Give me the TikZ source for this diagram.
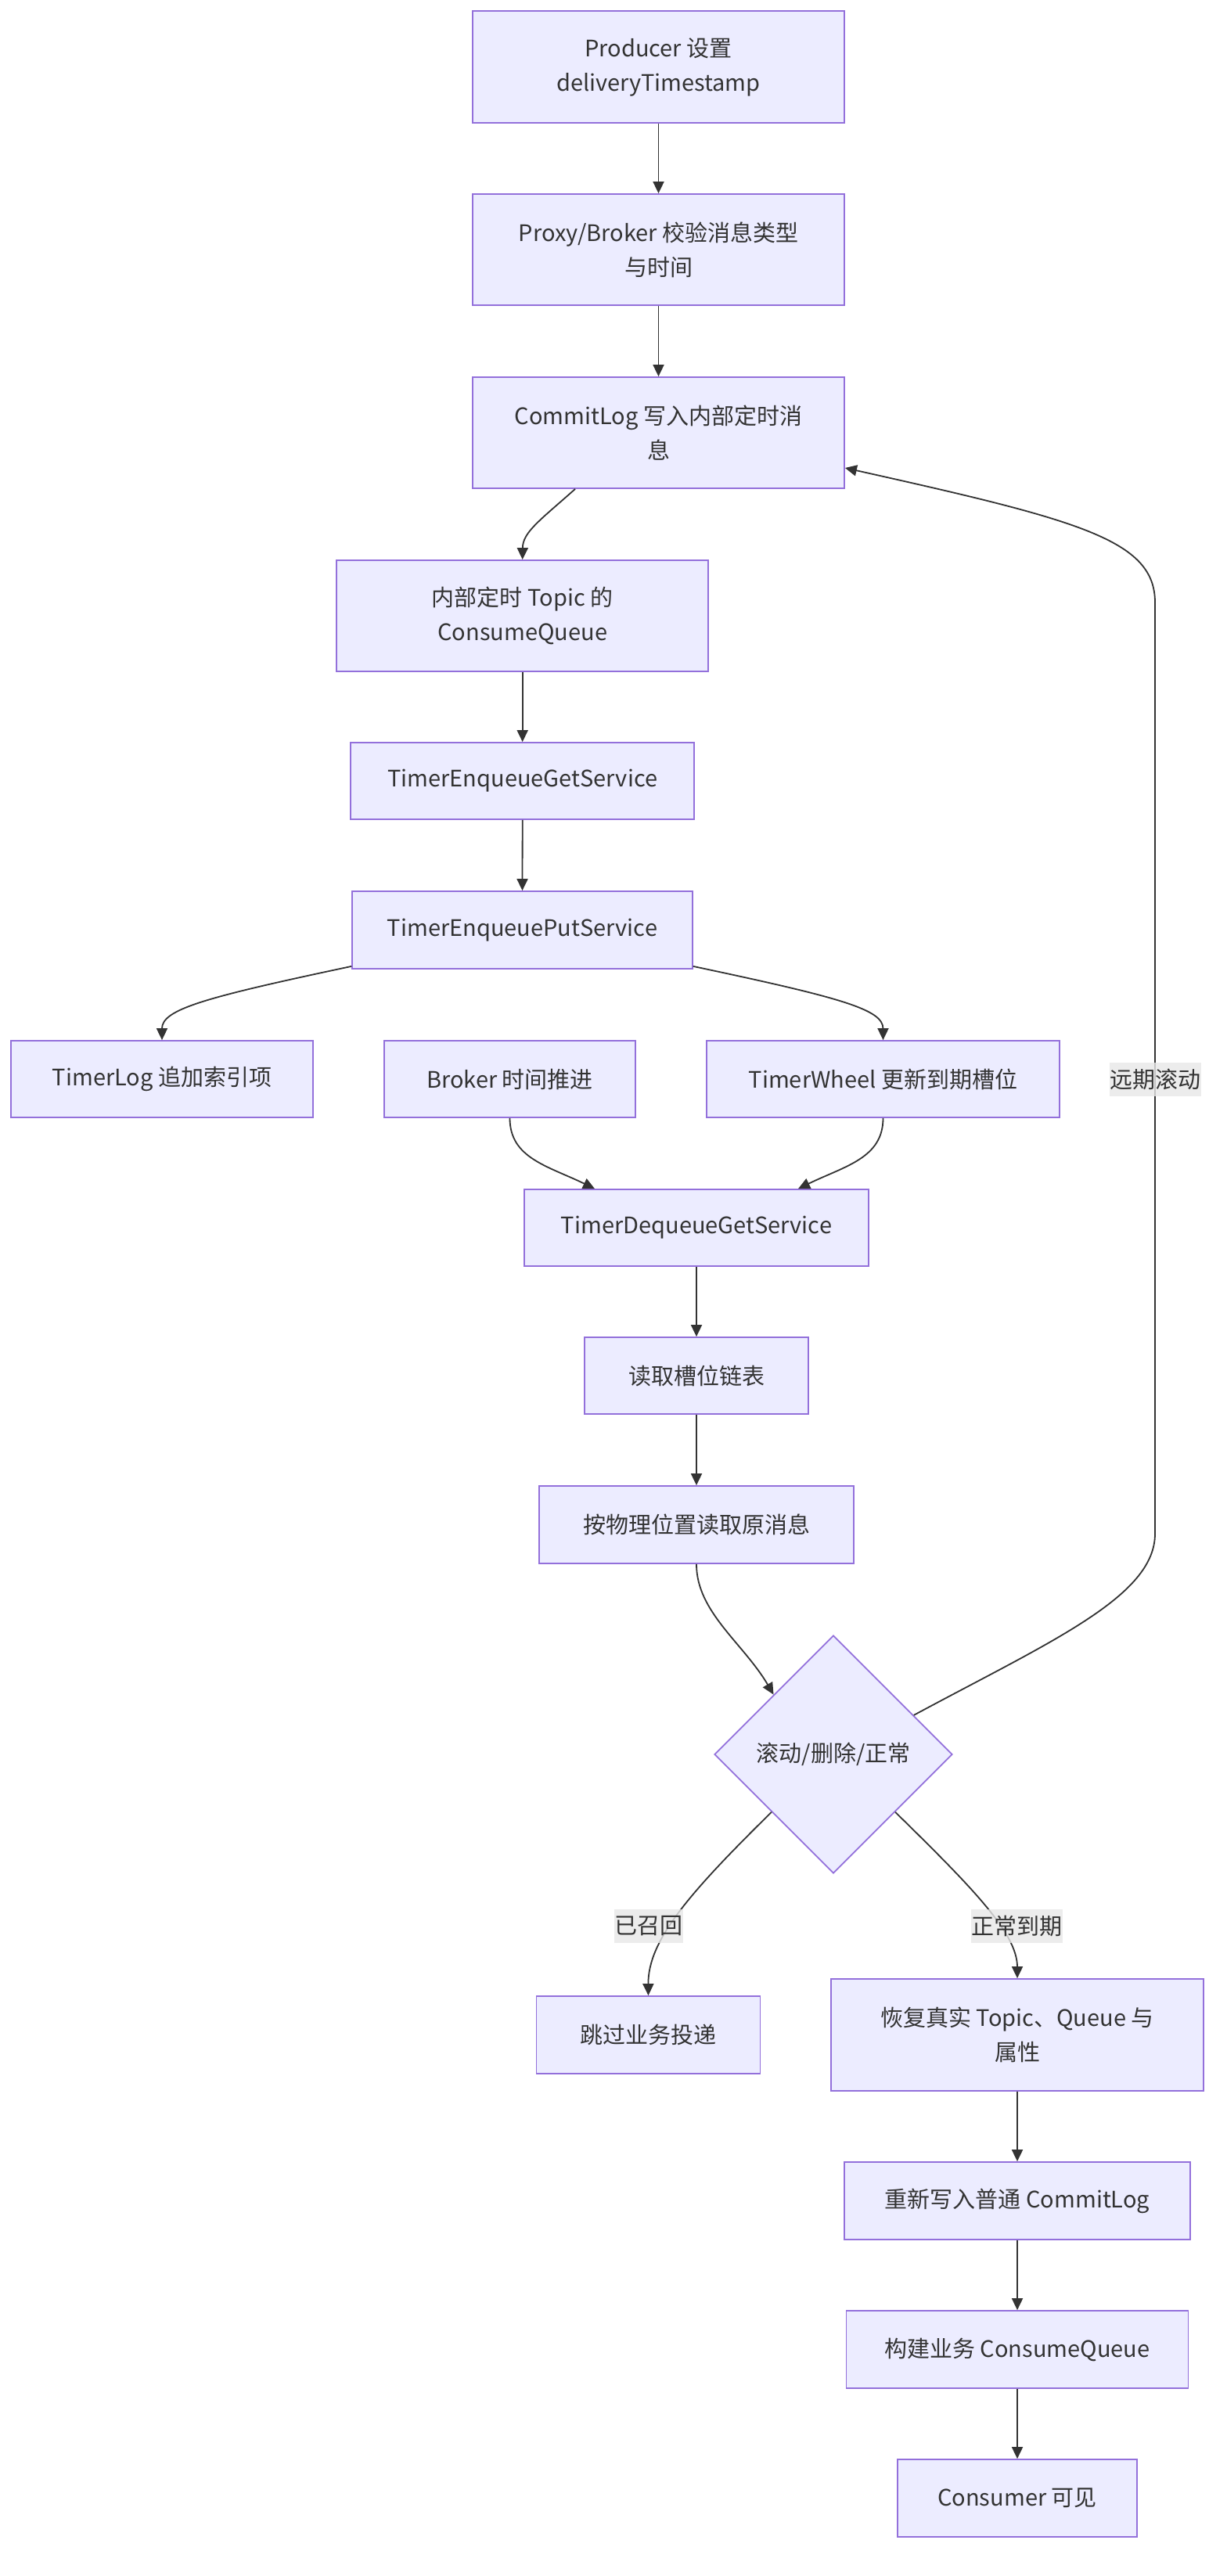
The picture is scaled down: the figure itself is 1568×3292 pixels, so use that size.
\documentclass[tikz,border=0pt]{standalone}
\usepackage{fontspec}
\setmainfont{Noto Sans CJK SC}
\usetikzlibrary{arrows.meta,shapes.geometric,calc}
\definecolor{mmfill}{HTML}{ECECFF}
\definecolor{mmstroke}{HTML}{9370DB}
\definecolor{mmline}{HTML}{333333}
\definecolor{mmtext}{HTML}{333333}
\definecolor{mmlbl}{HTML}{E8E8E8}
\newcommand{\mmfont}{\fontsize{29}{44}\selectfont}
\tikzset{
  box/.style={draw=mmstroke, fill=mmfill, line width=1.8pt, inner sep=0pt, text=mmtext, align=center, font=\mmfont},
  lbl/.style={fill=mmlbl, fill opacity=0.8, text opacity=1, text=mmtext, inner xsep=0.5pt, inner ysep=0pt, minimum height=43pt, font=\mmfont},
  conn/.style={draw=mmline, line width=1.8pt, -{Triangle[length=15pt,width=14pt]}},
}
\begin{document}
\begin{tikzpicture}[x=1pt,y=-1pt]
\fill[white] (0,0) rectangle (1568,3292);
\useasboundingbox (0,0) rectangle (1568,3292);

\node[box, minimum width=475pt, minimum height=143pt] (b1) at (841.5,85.5) {Producer 设置\\deliveryTimestamp};
\node[box, minimum width=475pt, minimum height=142pt] (b2) at (841.5,319) {Proxy/Broker 校验消息类型\\与时间};
\node[box, minimum width=475pt, minimum height=142pt] (b3) at (841.5,553) {CommitLog 写入内部定时消\\息};
\node[box, minimum width=475pt, minimum height=142pt] (b4) at (667.7,787) {内部定时 Topic 的\\ConsumeQueue};
\node[box, minimum width=439pt, minimum height=98pt] (b5) at (667.7,998) {TimerEnqueueGetService};
\node[box, minimum width=435pt, minimum height=99pt] (b6) at (667.5,1188.5) {TimerEnqueuePutService};
\node[box, minimum width=386pt, minimum height=98pt] (b7) at (207,1379) {TimerLog 追加索引项};
\node[box, minimum width=321pt, minimum height=98pt] (b8) at (651.5,1379) {Broker 时间推进};
\node[box, minimum width=451pt, minimum height=98pt] (b9) at (1128.5,1379) {TimerWheel 更新到期槽位};
\node[box, minimum width=440pt, minimum height=98pt] (b10) at (890,1569) {TimerDequeueGetService};
\node[box, minimum width=286pt, minimum height=98pt] (b11) at (890,1758) {读取槽位链表};
\node[box, minimum width=401.5pt, minimum height=99pt] (b12) at (890,1948.5) {按物理位置读取原消息};
\node[box, diamond, aspect=1, minimum width=304pt, minimum height=304pt] (d) at (1065,2242) {滚动/删除/正常};
\node[box, minimum width=286pt, minimum height=99pt] (b13) at (828.5,2600.5) {跳过业务投递};
\node[box, minimum width=476pt, minimum height=143pt] (b14) at (1300,2600.5) {恢复真实 Topic、Queue 与\\属性};
\node[box, minimum width=442pt, minimum height=99pt] (b15) at (1300,2812.5) {重新写入普通 CommitLog};
\node[box, minimum width=437pt, minimum height=99pt] (b16) at (1300,3002.5) {构建业务 ConsumeQueue};
\node[box, minimum width=306pt, minimum height=99pt] (b17) at (1300,3192.5) {Consumer 可见};

\draw[conn] (b1.south) -- (b2.north);
\draw[conn] (b2.south) -- (b3.north);
\draw[conn] ([xshift=-106.5pt]b3.south) .. controls (690,665) and (668,680) .. (b4.north);
\draw[conn] (b4.south) -- (b5.north);
\draw[conn] (b5.south) -- (b6.north);
\draw[conn] ([yshift=4pt]b6.south west) .. controls (260,1275) and (207,1290) .. (b7.north);
\draw[conn] ([yshift=4pt]b6.south east) .. controls (1075,1275) and (1128.5,1290) .. (b9.north);
\draw[conn] (b8.south) .. controls (651.5,1480) and (700,1490) .. ([xshift=-130pt]b10.north);
\draw[conn] (b9.south) .. controls (1128.5,1480) and (1080,1490) .. ([xshift=130pt]b10.north);
\draw[conn] (b10.south) -- (b11.north);
\draw[conn] (b11.south) -- (b12.north);
\draw[conn] (b12.south) .. controls (890,2060) and (950,2100) .. (d.north west);
\draw[conn] (d.26) .. controls (1344,2097) and (1476,2040) .. (1476,1960)
  -- (1476,770) .. controls (1476,690) and (1380,665) .. ([yshift=-45pt]b3.east);
\draw[conn] (d.223) .. controls (880,2420) and (828,2480) .. (b13.north);
\draw[conn] (d.317) .. controls (1240,2410) and (1300,2470) .. (b14.north);
\draw[conn] (b14.south) -- (b15.north);
\draw[conn] (b15.south) -- (b16.north);
\draw[conn] (b16.south) -- (b17.north);

\node[lbl] (l1) at (1476,1379) {远期滚动};
\node[lbl] (l2) at (828.5,2461.5) {已召回};
\node[lbl] (l3) at (1299.5,2461.5) {正常到期};
\end{tikzpicture}
\end{document}
